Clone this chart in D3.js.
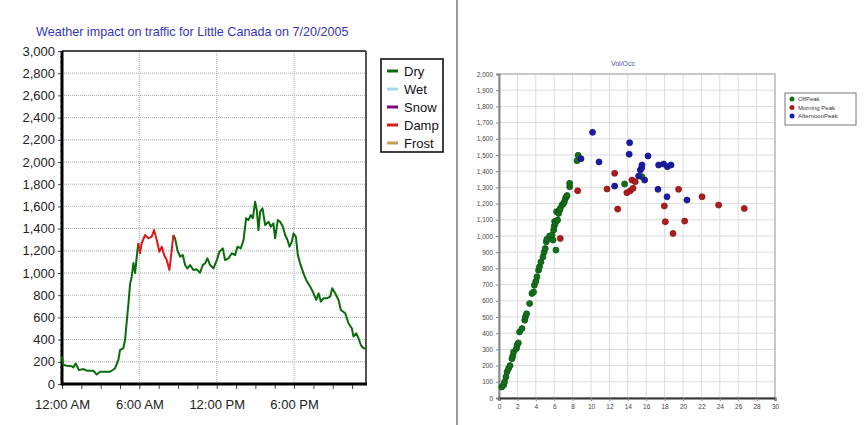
<!DOCTYPE html>
<html>
<head>
<meta charset="utf-8">
<script src="https://cdn.jsdelivr.net/npm/d3@7"></script>
<style>
  body { margin: 0; background: #fff; }
  svg { display: block; font-family: "Liberation Sans", Arial, sans-serif; }
</style>
</head>
<body>
<svg id="chart" width="866" height="425"></svg>
<script>
// ---- left chart data: traffic volume over the day (hours since midnight)
const hours = [0, 0.1, 0.36, 0.75, 0.88, 1.06, 1.32, 1.66, 1.91, 2.43, 2.69, 2.95, 3.47, 3.73, 4.11, 4.37, 4.5, 4.76, 4.89, 5.02,
  5.15, 5.28, 5.41, 5.54, 5.67, 5.8, 5.92, 6.05, 6.18, 6.44, 6.7, 6.96, 7.14, 7.35, 7.55, 7.74, 7.92, 8.12, 8.33, 8.51,
  8.64, 8.77, 8.95, 9.16, 9.37, 9.55, 9.73, 9.94, 10.19, 10.45, 10.71, 10.92, 11.1, 11.28, 11.49, 11.75, 12.01, 12.21, 12.47, 12.65,
  12.91, 13.17, 13.43, 13.61, 13.87, 14.08, 14.28, 14.46, 14.64, 14.8, 14.98, 15.11, 15.24, 15.37, 15.55, 15.76, 16.02, 16.2, 16.4, 16.53,
  16.74, 16.92, 17.13, 17.31, 17.49, 17.65, 17.83, 17.96, 18.14, 18.29, 18.47, 18.73, 18.94, 19.25, 19.51, 19.72, 19.9, 20.08, 20.28, 20.54,
  20.8, 20.96, 21.19, 21.45, 21.63, 21.97, 22.22, 22.48, 22.61, 22.82, 23.0, 23.18, 23.39, 23.57];
const volume = [250, 175, 165, 160, 150, 185, 125, 135, 120, 120, 85, 110, 110, 110, 140, 216, 306, 324, 396, 560,
  720, 900, 967, 1090, 1000, 1147, 1270, 1177, 1268, 1342, 1312, 1327, 1387, 1297, 1192, 1237, 1162, 1117, 1027, 1207,
  1342, 1312, 1207, 1147, 1162, 1072, 1042, 1072, 1027, 1033, 1003, 1072, 1087, 1132, 1072, 1042, 1117, 1192, 1222, 1117,
  1132, 1177, 1162, 1237, 1222, 1297, 1493, 1477, 1522, 1493, 1643, 1567, 1387, 1553, 1583, 1432, 1462, 1417, 1447, 1312,
  1477, 1462, 1417, 1342, 1297, 1237, 1282, 1357, 1327, 1162, 1087, 997, 937, 877, 817, 757, 817, 742, 772, 772,
  787, 862, 817, 757, 667, 637, 547, 502, 427, 457, 412, 351, 322, 322];
const dampPeriod = [5.92, 8.64];   // hours when road was damp
const conditions = ["Dry", "Wet", "Snow", "Damp", "Frost"];
const conditionColors = ["#0b6b0b", "#a8d8e8", "#800080", "#e01818", "#c8a050"];
const timeTicks = [0, 6, 12, 18];
const timeLabels = ["12:00 AM", "6:00 AM", "12:00 PM", "6:00 PM"];

// ---- right chart data: [occupancy %, volume]
const offPeak = [[0.3, 68], [0.5, 80], [0.6, 99], [0.75, 130], [0.87, 161], [1.04, 182], [1.2, 200], [1.41, 243], [1.5, 260],
  [1.59, 284], [1.9, 305], [1.96, 326], [2.1, 340], [2.24, 408], [2.5, 429], [2.8, 480], [2.86, 500], [3.0, 520], [3.33, 583],
  [3.58, 645], [3.76, 655], [3.84, 696], [4.0, 720], [4.13, 748], [4.3, 789], [4.4, 810], [4.56, 840], [4.78, 871], [4.9, 900],
  [5.03, 923], [5.14, 964], [5.2, 980], [5.5, 1000], [5.76, 1005], [5.87, 975], [5.94, 1036], [6.0, 1060], [6.05, 1090],
  [6.12, 1078], [6.19, 913], [6.26, 1150], [6.37, 1098], [6.48, 1139], [6.6, 1160], [6.66, 1170], [6.85, 1191], [7.0, 1200],
  [7.1, 1211], [7.2, 1230], [7.32, 1242], [7.4, 1250], [7.68, 1304], [7.68, 1325], [8.48, 1465], [8.6, 1498], [13.65, 1321], [15.54, 1366]];
const morningPeak = [[6.66, 985], [8.55, 1279], [11.74, 1290], [12.57, 1387], [12.9, 1166], [13.9, 1267], [14.27, 1279],
  [14.57, 1294], [14.45, 1345], [14.8, 1335], [17.97, 1185], [18.08, 1088], [18.91, 1016], [19.52, 1288], [20.18, 1092],
  [22.07, 1242], [23.87, 1191], [26.66, 1170]];
const afternoonPeak = [[8.91, 1477], [10.17, 1640], [10.87, 1457], [12.57, 1308], [14.15, 1505], [14.2, 1576], [15.18, 1370],
  [15.36, 1407], [15.5, 1420], [15.54, 1438], [15.83, 1345], [16.2, 1494], [17.28, 1288], [17.35, 1438], [17.9, 1444],
  [18.3, 1428], [18.7, 1438], [18.26, 1242], [20.43, 1222]];
const scatterSeries = ["OffPeak", "Morning Peak", "AfternoonPeak"];
const scatterColors = ["#13701a", "#b01c1c", "#1a1aa8"];

const svg = d3.select("#chart");

// separator between the two charts
svg.append("line").attr("x1", 457).attr("x2", 457).attr("y1", 0).attr("y2", 425)
  .attr("stroke", "#777").attr("stroke-width", 1.5);

// ================= LEFT: line chart =================
const L = { left: 62, right: 366, top: 51, bottom: 384 };
const x = d3.scaleLinear().domain([0, 23.58]).range([L.left, L.right]);
const y = d3.scaleLinear().domain([0, 3000]).range([L.bottom, L.top]);

const left = svg.append("g");

// dotted grid
left.append("g").selectAll("line").data(d3.range(200, 3001, 200)).join("line")
  .attr("x1", L.left).attr("x2", L.right).attr("y1", d => y(d)).attr("y2", d => y(d))
  .attr("stroke", "#aaa").attr("stroke-dasharray", "1,1");
left.append("g").selectAll("line").data(timeTicks.slice(1)).join("line")
  .attr("x1", d => x(d)).attr("x2", d => x(d)).attr("y1", L.top).attr("y2", L.bottom)
  .attr("stroke", "#aaa").attr("stroke-dasharray", "1,1");

// y axis
const yAxis = left.append("g").attr("transform", `translate(${L.left},0)`)
  .call(d3.axisLeft(y).tickValues(d3.range(0, 3001, 200)).tickSize(4).tickFormat(d3.format(",")));
yAxis.select(".domain").remove();
yAxis.selectAll("text").attr("font-size", 13).attr("fill", "#222").attr("x", -7);
yAxis.selectAll("line").attr("stroke", "#444");
// minor y ticks
left.append("g").selectAll("line").data(d3.range(50, 3000, 50).filter(d => d % 200)).join("line")
  .attr("x1", L.left - 2).attr("x2", L.left).attr("y1", d => y(d)).attr("y2", d => y(d)).attr("stroke", "#666");

// x axis
const xAxis = left.append("g").attr("transform", `translate(0,${L.bottom})`)
  .call(d3.axisBottom(x).tickValues(d3.range(0, 23.5, 1.5)).tickSize(5)
    .tickFormat(d => { const i = timeTicks.indexOf(d); return i >= 0 ? timeLabels[i] : ""; }));
xAxis.select(".domain").remove();
xAxis.selectAll("text").attr("font-size", 13).attr("fill", "#222").attr("dy", "1.3em");
xAxis.selectAll("line").attr("stroke", "#444");

// plot frame
left.append("line").attr("x1", L.left).attr("x2", L.right).attr("y1", L.top).attr("y2", L.top)
  .attr("stroke", "#111").attr("stroke-width", 1.5);
left.append("line").attr("x1", L.right).attr("x2", L.right).attr("y1", L.top).attr("y2", L.bottom)
  .attr("stroke", "#555").attr("stroke-width", 2);
left.append("line").attr("x1", L.left).attr("x2", L.left).attr("y1", L.top).attr("y2", L.bottom + 1.5)
  .attr("stroke", "#000").attr("stroke-width", 3);
left.append("line").attr("x1", L.left).attr("x2", L.right + 1).attr("y1", L.bottom).attr("y2", L.bottom)
  .attr("stroke", "#000").attr("stroke-width", 3);

// series
const pts = d3.zip(hours, volume);
const line = d3.line().x(d => x(d[0])).y(d => y(d[1]));
const dryA = pts.filter(d => d[0] <= dampPeriod[0]);
const damp = pts.filter(d => d[0] >= dampPeriod[0] && d[0] <= dampPeriod[1]);
const dryB = pts.filter(d => d[0] >= dampPeriod[1]);
[[dryA, 0], [dryB, 0], [damp, 3]].forEach(([data, ci]) => {
  left.append("path").datum(data).attr("d", line).attr("fill", "none")
    .attr("stroke", conditionColors[ci]).attr("stroke-width", 2).attr("stroke-linejoin", "round");
});

// title
left.append("text").attr("x", 36).attr("y", 36).attr("font-size", 12.6).attr("fill", "#3535c0")
  .text("Weather impact on traffic for Little Canada on 7/20/2005");

// legend
const lg = left.append("g").attr("transform", "translate(381,59)");
lg.append("rect").attr("width", 62).attr("height", 93).attr("fill", "#fff").attr("stroke", "#000").attr("stroke-width", 1.5);
conditions.forEach((c, i) => {
  const yy = 12 + i * 18;
  lg.append("line").attr("x1", 6).attr("x2", 17).attr("y1", yy).attr("y2", yy)
    .attr("stroke", conditionColors[i]).attr("stroke-width", 3);
  lg.append("text").attr("x", 23).attr("y", yy + 5).attr("font-size", 13).attr("fill", "#111").text(c);
});

// ================= RIGHT: scatter =================
const R = { left: 499, right: 775, top: 74, bottom: 398 };
const sx = d3.scaleLinear().domain([0, 30]).range([R.left, R.right]);
const sy = d3.scaleLinear().domain([0, 2000]).range([R.bottom, R.top]);
const right = svg.append("g");

right.append("g").selectAll("line").data(d3.range(100, 2001, 100)).join("line")
  .attr("x1", R.left).attr("x2", R.right).attr("y1", d => sy(d)).attr("y2", d => sy(d))
  .attr("stroke", "#dcdcdc");
right.append("g").selectAll("line").data(d3.range(2, 31, 2)).join("line")
  .attr("x1", d => sx(d)).attr("x2", d => sx(d)).attr("y1", R.top).attr("y2", R.bottom)
  .attr("stroke", "#dcdcdc");
right.append("rect").attr("x", R.left).attr("y", R.top).attr("width", R.right - R.left).attr("height", R.bottom - R.top)
  .attr("fill", "none").attr("stroke", "#bbb").attr("stroke-width", 1.5);

const syAxis = right.append("g").attr("transform", `translate(${R.left},0)`)
  .call(d3.axisLeft(sy).tickValues(d3.range(0, 2001, 100)).tickSize(3).tickFormat(d3.format(",")));
syAxis.select(".domain").attr("stroke", "#888").attr("stroke-width", 2);
syAxis.selectAll("text").attr("font-size", 6.5).attr("fill", "#444");
syAxis.selectAll("line").attr("stroke", "#888");

const sxAxis = right.append("g").attr("transform", `translate(0,${R.bottom})`)
  .call(d3.axisBottom(sx).tickValues(d3.range(0, 31, 2)).tickSize(3));
sxAxis.select(".domain").attr("stroke", "#333").attr("stroke-width", 2);
sxAxis.selectAll("text").attr("font-size", 6.5).attr("fill", "#444");
sxAxis.selectAll("line").attr("stroke", "#888");

[[offPeak, 0], [morningPeak, 1], [afternoonPeak, 2]].forEach(([data, ci]) => {
  right.append("g").selectAll("circle").data(data).join("circle")
    .attr("cx", d => sx(d[0])).attr("cy", d => sy(d[1])).attr("r", 3)
    .attr("fill", scatterColors[ci]).attr("stroke", d3.color(scatterColors[ci]).darker(0.8)).attr("stroke-width", 0.8);
});

right.append("text").attr("x", 623).attr("y", 66).attr("text-anchor", "middle")
  .attr("font-size", 7).attr("fill", "#5050b0").text("Vol/Occ");

const sl = right.append("g").attr("transform", "translate(785,93)");
sl.append("rect").attr("width", 71).attr("height", 32).attr("fill", "#fff").attr("stroke", "#777");
scatterSeries.forEach((s, i) => {
  const yy = 6 + i * 8.5;
  sl.append("circle").attr("cx", 7).attr("cy", yy).attr("r", 2.5).attr("fill", scatterColors[i]);
  sl.append("text").attr("x", 13).attr("y", yy + 2.2).attr("font-size", 6).attr("fill", "#333").text(s);
});
</script>
</body>
</html>
